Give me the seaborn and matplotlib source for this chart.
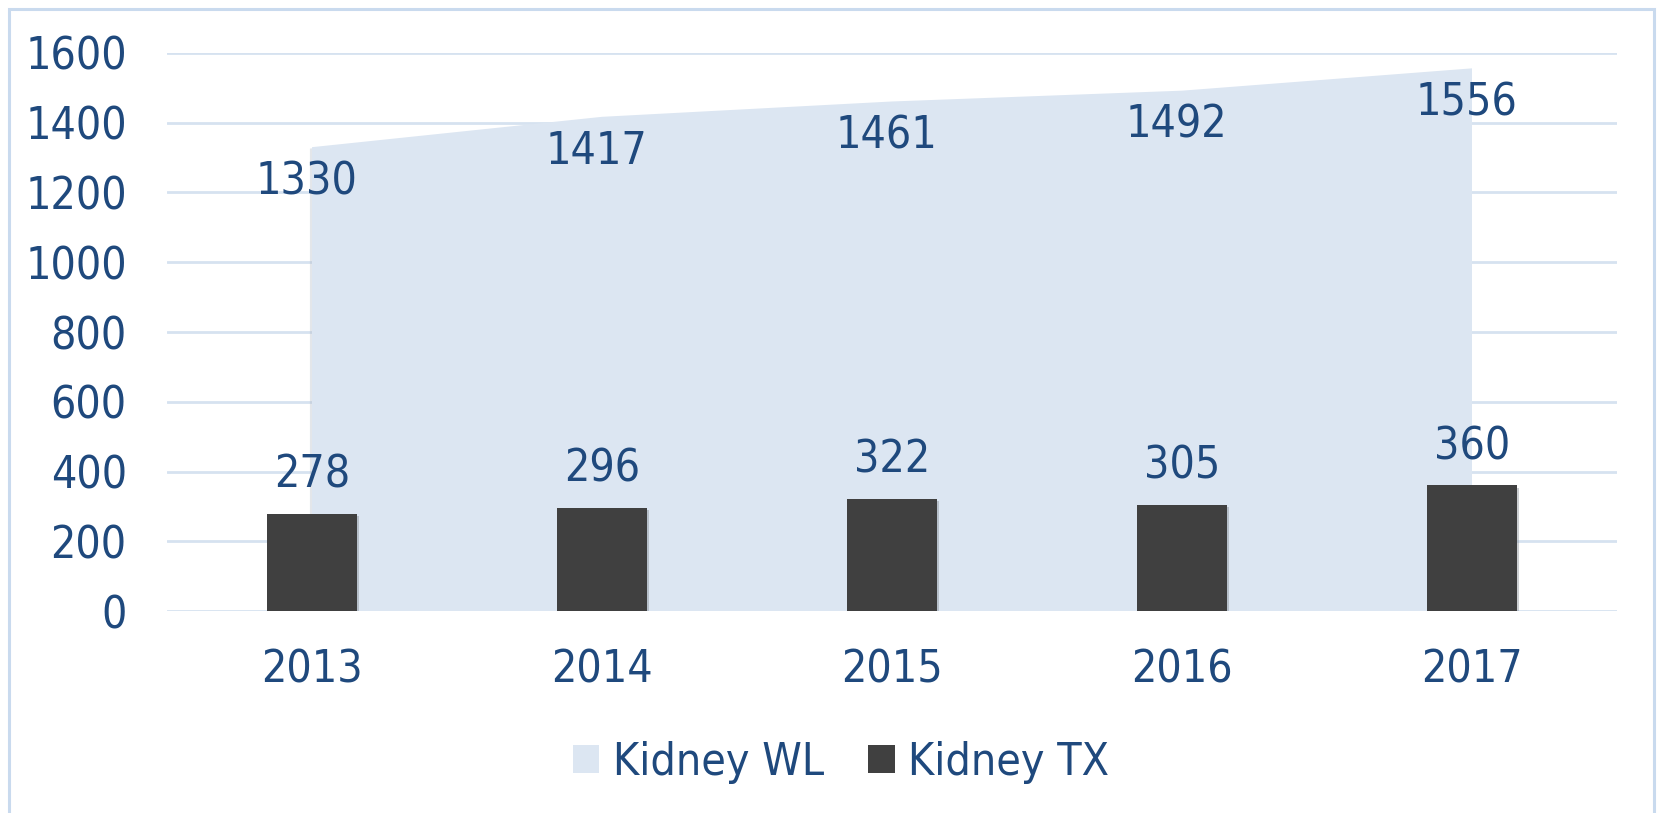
import matplotlib
matplotlib.use("Agg")
import matplotlib.pyplot as plt
from matplotlib.patches import Patch, Rectangle
import matplotlib.patheffects as pe
import seaborn as sns
import pandas as pd

# Data
years = ["2013", "2014", "2015", "2016", "2017"]
kidney_wl = [1330, 1417, 1461, 1492, 1556]
kidney_tx = [278, 296, 322, 305, 360]
y_ticks = [0, 200, 400, 600, 800, 1000, 1200, 1400, 1600]

df = pd.DataFrame({"year": years, "wl": kidney_wl, "tx": kidney_tx})

text_col = "#1F497D"
area_col = "#DCE6F2"
bar_col = "#404040"
grid_col = "#D6E2F0"
fs = 32

sns.set_theme(style="white")
plt.rcParams["font.family"] = ["DejaVu Sans"]
plt.rcParams["font.stretch"] = "condensed"

fig = plt.figure(figsize=(16.59, 8.13), dpi=100)
ax = fig.add_axes([167 / 1659, 1 - 611 / 813, 1450 / 1659, 558 / 813])

# chart border (bottom edge runs off the image)
fig.patches.append(Rectangle((8.5 / 1659, -20 / 813), 1645 / 1659, 824.5 / 813,
                             transform=fig.transFigure, fill=False,
                             edgecolor="#C9DAEE", linewidth=2.2))

# horizontal gridlines
for t in y_ticks:
    ax.axhline(t, color=grid_col, linewidth=2, zorder=0)

# area for waiting list
xs = list(range(len(years)))
area = ax.fill_between(xs, 0, df["wl"], color=area_col, linewidth=0, zorder=1)
area.set_path_effects([pe.SimplePatchShadow(offset=(-1.5, -1), shadow_rgbFace="#B0B8C4", alpha=0.35),
                       pe.Normal()])

# bars for transplants
sns.barplot(data=df, x="year", y="tx", order=years, color=bar_col,
            width=0.31, saturation=1, ax=ax, zorder=2)
for p in ax.patches:
    p.set_edgecolor("none")
    p.set_path_effects([pe.SimplePatchShadow(offset=(1.5, -1.5), shadow_rgbFace="#808890", alpha=0.4),
                        pe.Normal()])

# data labels
for i, v in enumerate(df["wl"]):
    ax.annotate(str(v), (i, v), xytext=(-4, -25), textcoords="offset points",
                ha="center", va="center", fontsize=fs, color=text_col, zorder=3)
for i, v in enumerate(df["tx"]):
    ax.annotate(str(v), (i, v), xytext=(0, 28), textcoords="offset points",
                ha="center", va="center", fontsize=fs, color=text_col, zorder=3)

ax.set_xlim(-0.5, 4.5)
ax.set_ylim(0, 1600)
ax.set_yticks(y_ticks)
ax.set_yticklabels([str(t) for t in y_ticks])
ax.set_xlabel("")
ax.set_ylabel("")
ax.tick_params(axis="both", length=0, labelsize=fs, colors=text_col)
ax.tick_params(axis="y", pad=29)
ax.tick_params(axis="x", pad=27)
for s in ax.spines.values():
    s.set_visible(False)
ax.set_facecolor("none")

handles = [Patch(facecolor=area_col, edgecolor="none", label="Kidney WL"),
           Patch(facecolor=bar_col, edgecolor="none", label="Kidney TX")]
leg = fig.legend(handles=handles, loc="center", bbox_to_anchor=(841 / 1659, 1 - 762 / 813),
                 ncol=2, frameon=False, fontsize=fs, handlelength=0.6, handleheight=0.6,
                 handletextpad=0.3, columnspacing=1.0)
for t in leg.get_texts():
    t.set_color(text_col)

fig.savefig("out.png", dpi=100, facecolor="white")
